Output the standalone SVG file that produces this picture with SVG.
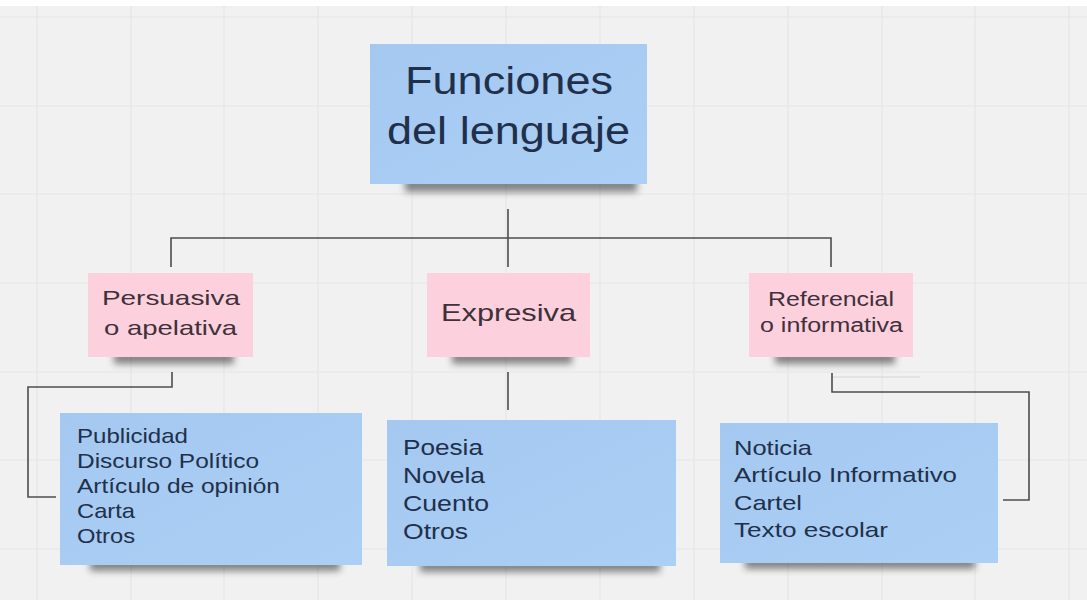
<svg xmlns="http://www.w3.org/2000/svg" width="1087" height="600" viewBox="0 0 1087 600">
<defs>
<style>
.grid line{stroke:#e6e6e6;stroke-width:1.2}
.pink{fill:#fdd0dd}
.shadow{fill:#2a2a2a;opacity:.55;filter:url(#blur)}
.t{font-family:"Liberation Sans",Arial,sans-serif}
.tb{fill:#21304a}
.tp{fill:#40303a}
.conn path{fill:none;stroke:#4d4d4d;stroke-width:1.6}
</style>
<filter id="blur" x="-20%" y="-150%" width="140%" height="400%"><feGaussianBlur stdDeviation="3.5"/></filter>
<linearGradient id="bg" x1="0" y1="0" x2="1" y2="1"><stop offset="0" stop-color="#a4c8f0"/><stop offset="1" stop-color="#accff5"/></linearGradient>
</defs>
<rect width="1087" height="600" fill="#f1f1f1"/>
<rect width="1087" height="6" fill="#ffffff"/>
<g class="grid">
<line x1="37" y1="6" x2="37" y2="600"/><line x1="131" y1="6" x2="131" y2="600"/><line x1="224" y1="6" x2="224" y2="600"/><line x1="318" y1="6" x2="318" y2="600"/><line x1="412" y1="6" x2="412" y2="600"/><line x1="506" y1="6" x2="506" y2="600"/><line x1="600" y1="6" x2="600" y2="600"/><line x1="694" y1="6" x2="694" y2="600"/><line x1="788" y1="6" x2="788" y2="600"/><line x1="882" y1="6" x2="882" y2="600"/><line x1="975" y1="6" x2="975" y2="600"/><line x1="1069" y1="6" x2="1069" y2="600"/>
<line x1="0" y1="17" x2="1087" y2="17"/><line x1="0" y1="106" x2="1087" y2="106"/><line x1="0" y1="194" x2="1087" y2="194"/><line x1="0" y1="283" x2="1087" y2="283"/><line x1="0" y1="372" x2="1087" y2="372"/><line x1="0" y1="460" x2="1087" y2="460"/><line x1="0" y1="549" x2="1087" y2="549"/>
</g>
<line x1="832" y1="377" x2="920" y2="377" stroke="#d6d6d6" stroke-width="1.2"/>
<g class="conn">
<path d="M508,209 V267"/>
<path d="M171,267 V238 H831 V267"/>
<path d="M172,372 V387 H28 V497 H56"/>
<path d="M508,372 V410"/>
<path d="M832,373 V392 H1029 V500 H1003"/>
</g>
<g id="main">
<rect class="shadow" x="405" y="178" width="232" height="14"/>
<rect fill="url(#bg)" x="370" y="44" width="277" height="140"/>
<text class="t tb" font-size="38" x="405" y="94" textLength="208" lengthAdjust="spacingAndGlyphs">Funciones</text>
<text class="t tb" font-size="38" x="387" y="144" textLength="243" lengthAdjust="spacingAndGlyphs">del lenguaje</text>
</g>
<g id="persuasiva">
<rect class="shadow" x="114" y="351" width="120" height="13"/>
<rect class="pink" x="88" y="273" width="165" height="84"/>
<text class="t tp" font-size="21" x="102" y="305" textLength="138" lengthAdjust="spacingAndGlyphs">Persuasiva</text>
<text class="t tp" font-size="21" x="104" y="335" textLength="133" lengthAdjust="spacingAndGlyphs">o apelativa</text>
</g>
<g id="expresiva">
<rect class="shadow" x="452" y="351" width="120" height="13"/>
<rect class="pink" x="427" y="273" width="163" height="84"/>
<text class="t tp" font-size="24" x="441" y="321" textLength="135" lengthAdjust="spacingAndGlyphs">Expresiva</text>
</g>
<g id="referencial">
<rect class="shadow" x="775" y="351" width="120" height="13"/>
<rect class="pink" x="749" y="273" width="164" height="84"/>
<text class="t tp" font-size="20" x="768" y="306" textLength="126" lengthAdjust="spacingAndGlyphs">Referencial</text>
<text class="t tp" font-size="20" x="760" y="332" textLength="143" lengthAdjust="spacingAndGlyphs">o informativa</text>
</g>
<g id="lista-persuasiva">
<rect class="shadow" x="90" y="557" width="250" height="14"/>
<rect fill="url(#bg)" x="60" y="413" width="302" height="152"/>
<g class="t tb" font-size="21">
<text x="77" y="443" textLength="111" lengthAdjust="spacingAndGlyphs">Publicidad</text>
<text x="77" y="468" textLength="182" lengthAdjust="spacingAndGlyphs">Discurso Político</text>
<text x="77" y="493" textLength="203" lengthAdjust="spacingAndGlyphs">Artículo de opinión</text>
<text x="77" y="518" textLength="58" lengthAdjust="spacingAndGlyphs">Carta</text>
<text x="77" y="543" textLength="58" lengthAdjust="spacingAndGlyphs">Otros</text>
</g>
</g>
<g id="lista-expresiva">
<rect class="shadow" x="420" y="558" width="240" height="14"/>
<rect fill="url(#bg)" x="387" y="420" width="289" height="146"/>
<g class="t tb" font-size="22">
<text x="403" y="455" textLength="80" lengthAdjust="spacingAndGlyphs">Poesia</text>
<text x="403" y="483" textLength="82" lengthAdjust="spacingAndGlyphs">Novela</text>
<text x="403" y="511" textLength="86" lengthAdjust="spacingAndGlyphs">Cuento</text>
<text x="403" y="539" textLength="65" lengthAdjust="spacingAndGlyphs">Otros</text>
</g>
</g>
<g id="lista-referencial">
<rect class="shadow" x="745" y="555" width="230" height="14"/>
<rect fill="url(#bg)" x="720" y="423" width="278" height="140"/>
<g class="t tb" font-size="21">
<text x="734" y="455" textLength="78" lengthAdjust="spacingAndGlyphs">Noticia</text>
<text x="734" y="482" textLength="223" lengthAdjust="spacingAndGlyphs">Artículo Informativo</text>
<text x="734" y="510" textLength="68" lengthAdjust="spacingAndGlyphs">Cartel</text>
<text x="734" y="537" textLength="154" lengthAdjust="spacingAndGlyphs">Texto escolar</text>
</g>
</g>
</svg>
